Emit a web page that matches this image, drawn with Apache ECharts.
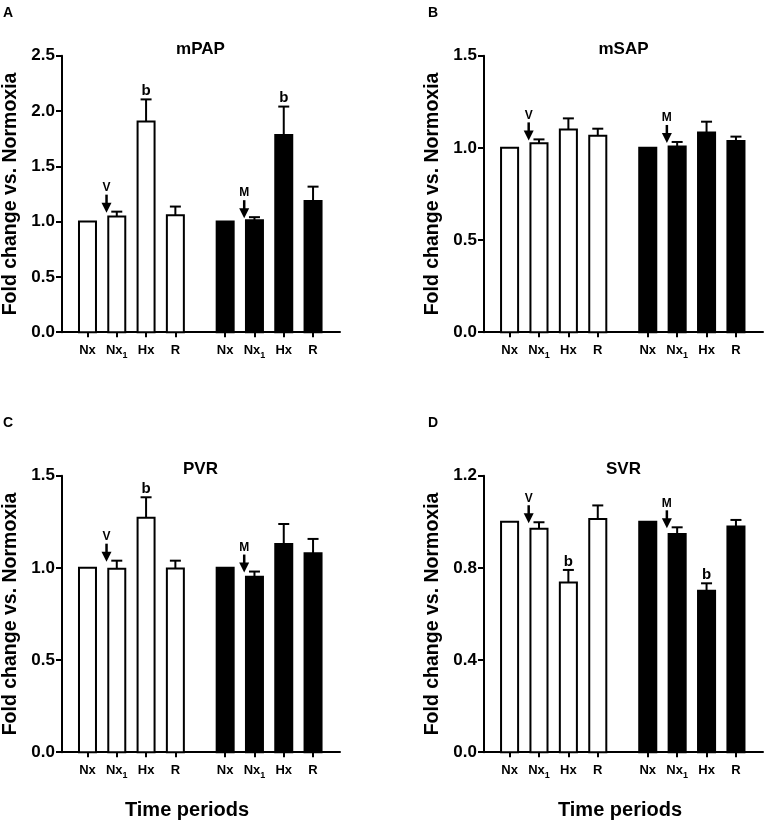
<!DOCTYPE html>
<html>
<head>
<meta charset="utf-8">
<script src="https://cdn.jsdelivr.net/npm/echarts@6/dist/echarts.min.js"></script>
<style>
  html, body { margin: 0; padding: 0; background: #fff; }
  #chart { width: 765px; height: 826px; }
</style>
</head>
<body>
<div id="chart"></div>
<script>
// x positions of the eight time periods (second group shifted by the gap)
const periodX = [1, 2, 3, 4, 5.7, 6.7, 7.7, 8.7];
const periodLabels = ["Nx", "Nx1", "Hx", "R", "Nx", "Nx1", "Hx", "R"];

// fold change means and SEM
const mpapMean = [1.0, 1.045, 1.905, 1.057, 1.0, 1.012, 1.783, 1.187];
const mpapSem = [0, 0.045, 0.2, 0.079, 0, 0.028, 0.257, 0.129];
const msapMean = [1.0, 1.025, 1.1, 1.066, 1.0, 1.008, 1.083, 1.037];
const msapSem = [0, 0.021, 0.06, 0.038, 0, 0.024, 0.059, 0.024];
const pvrMean = [1.0, 0.995, 1.272, 0.997, 1.0, 0.952, 1.13, 1.079];
const pvrSem = [0, 0.044, 0.111, 0.042, 0, 0.028, 0.108, 0.078];
const svrMean = [1.0, 0.97, 0.737, 1.012, 1.0, 0.947, 0.701, 0.979];
const svrSem = [0, 0.028, 0.054, 0.059, 0, 0.029, 0.032, 0.029];

const panelLetters = ["A", "B", "C", "D"];
const panelTitles = ["mPAP", "mSAP", "PVR", "SVR"];
const yMax = [2.5, 1.5, 1.5, 1.2];
const yStep = [0.5, 0.5, 0.5, 0.4];
const sigMarks = [[2, 6], [], [2], [2, 6]]; // "b" over these bars
const drugMarks = { 1: "V", 5: "M" }; // arrow annotations

const means = [mpapMean, msapMean, pvrMean, svrMean];
const sems = [mpapSem, msapSem, pvrSem, svrSem];

const FONT = "Liberation Sans, Arial, sans-serif";
const plotW = 279;
const plotH = 276.5;
const grids = [
  { left: 61, top: 55.7 },
  { left: 484, top: 55.7 },
  { left: 61, top: 475.7 },
  { left: 484, top: 475.7 },
];

const chart = echarts.init(document.getElementById("chart"));

// one bar with its error bar and annotations
const makeRenderer = (panel) => (params, api) => {
  const i = params.dataIndex;
  const x = api.value(0);
  const mean = api.value(1);
  const sem = api.value(2);
  const open = i < 4;
  const half = api.size([0.58, 0])[0] / 2;
  const top = api.coord([x, mean]);
  const base = api.coord([x, 0]);
  const errTop = api.coord([x, mean + sem]);
  const stroke = { stroke: "#000", lineWidth: 2 };

  const children = [
    {
      type: "rect",
      shape: { x: top[0] - half, y: top[1], width: half * 2, height: base[1] - top[1] },
      style: { fill: open ? "#fff" : "#000", stroke: "#000", lineWidth: 2 },
    },
  ];
  if (sem > 0) {
    children.push({
      type: "line",
      shape: { x1: top[0], y1: top[1], x2: top[0], y2: errTop[1] },
      style: stroke,
    });
    children.push({
      type: "line",
      shape: { x1: top[0] - 5.5, y1: errTop[1], x2: top[0] + 5.5, y2: errTop[1] },
      style: stroke,
    });
  }
  if (sigMarks[panel].includes(i)) {
    children.push({
      type: "text",
      x: top[0],
      y: errTop[1] - 1,
      style: {
        text: "b", fill: "#000", fontSize: 15, fontWeight: "bold", fontFamily: FONT,
        align: "center", verticalAlign: "bottom",
      },
    });
  }
  if (drugMarks[i]) {
    const tip = api.coord([x - 0.35, mean + sem]);
    const tx = tip[0];
    const ty = tip[1] + 1;
    children.push({
      type: "line",
      shape: { x1: tx, y1: ty - 18, x2: tx, y2: ty - 8 },
      style: { stroke: "#000", lineWidth: 2.5 },
    });
    children.push({
      type: "polygon",
      shape: { points: [[tx - 5, ty - 10], [tx + 5, ty - 10], [tx, ty]] },
      style: { fill: "#000" },
    });
    children.push({
      type: "text",
      x: tx,
      y: ty - 25,
      style: {
        text: drugMarks[i], fill: "#000", fontSize: 12, fontWeight: "bold", fontFamily: FONT,
        align: "center", verticalAlign: "middle",
      },
    });
  }
  return { type: "group", children };
};

const periodFormatter = (v) => {
  const idx = periodX.findIndex((p) => Math.abs(p - v) < 1e-6);
  const lab = idx < 0 ? "" : periodLabels[idx];
  const m = lab.match(/^(\D+)(\d)$/);
  return m ? `{m|${m[1]}}{s|${m[2]}}` : `{m|${lab}}`;
};

const axisLine = { show: true, lineStyle: { color: "#000", width: 2 } };

const option = {
  animation: false,
  backgroundColor: "#fff",
  grid: grids.map((g) => ({ left: g.left, top: g.top, width: plotW, height: plotH })),
  xAxis: grids.map((g, k) => ({
    type: "value",
    gridIndex: k,
    min: 0.13,
    max: 9.62,
    axisLine,
    splitLine: { show: false },
    axisTick: { show: true, customValues: periodX, length: 5, lineStyle: { color: "#000", width: 2 } },
    axisLabel: {
      customValues: periodX,
      margin: 12,
      formatter: periodFormatter,
      rich: {
        m: { fontSize: 13, fontWeight: "bold", fontFamily: FONT, color: "#000", lineHeight: 13, verticalAlign: "top" },
        s: { fontSize: 9, fontWeight: "bold", fontFamily: FONT, color: "#000", lineHeight: 9, padding: [7, 0, 0, 0], verticalAlign: "top" },
      },
    },
    name: k >= 2 ? "Time periods" : "",
    nameLocation: "middle",
    nameGap: 48,
    nameTextStyle: {
      fontSize: 20, fontWeight: "bold", fontFamily: FONT, color: "#000",
      padding: k === 2 ? [0, 28, 0, 0] : [0, 7, 0, 0],
    },
  })),
  yAxis: grids.map((g, k) => ({
    type: "value",
    gridIndex: k,
    min: 0,
    max: yMax[k],
    interval: yStep[k],
    axisLine,
    splitLine: { show: false },
    axisTick: { show: true, length: 6, lineStyle: { color: "#000", width: 2 } },
    axisLabel: {
      margin: 7,
      fontSize: 17, fontWeight: "bold", fontFamily: FONT, color: "#000",
      formatter: (v) => v.toFixed(1),
    },
    name: "Fold change vs. Normoxia",
    nameLocation: "middle",
    nameGap: 41,
    nameTextStyle: { fontSize: 19.5, fontWeight: "bold", fontFamily: FONT, color: "#000" },
  })),
  graphic: grids.flatMap((g, k) => [
    {
      type: "text",
      x: k % 2 ? 428 : 3,
      y: k < 2 ? 13 : 423,
      style: {
        text: panelLetters[k], fill: "#000", fontSize: 14, fontWeight: "bold", fontFamily: FONT,
        align: "left", verticalAlign: "middle",
      },
    },
    {
      type: "text",
      x: g.left + plotW / 2,
      y: g.top - 6.5,
      style: {
        text: panelTitles[k], fill: "#000", fontSize: 17, fontWeight: "bold", fontFamily: FONT,
        align: "center", verticalAlign: "middle",
      },
    },
  ]),
  series: means.map((mean, k) => ({
    type: "custom",
    xAxisIndex: k,
    yAxisIndex: k,
    clip: false,
    silent: true,
    encode: { x: 0, y: 1 },
    data: periodX.map((x, i) => [x, mean[i], sems[k][i]]),
    renderItem: makeRenderer(k),
  })),
};

chart.setOption(option);
</script>
</body>
</html>
